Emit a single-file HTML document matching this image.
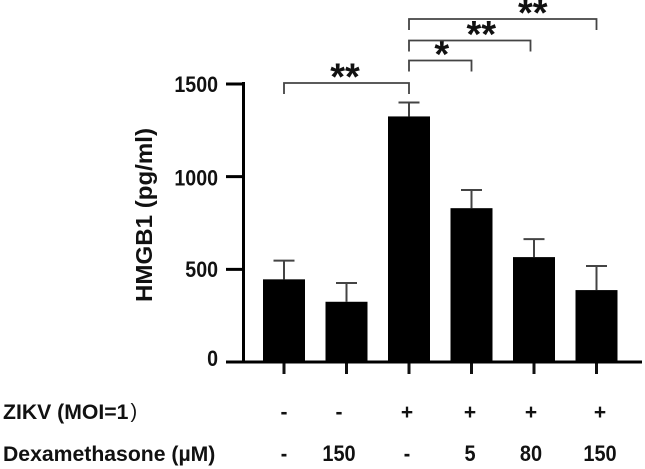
<!DOCTYPE html>
<html>
<head>
<meta charset="utf-8">
<style>
html,body{margin:0;padding:0;background:#fff;}
body{width:645px;height:469px;overflow:hidden;}
svg{display:block;filter:blur(0.35px);}
text{font-family:"Liberation Sans",sans-serif;font-weight:bold;fill:#111;}
</style>
</head>
<body>
<svg id="chart" xmlns="http://www.w3.org/2000/svg" width="645" height="469" viewBox="0 0 645 469"></svg>
<script>
const zikvRow = ['-', '-', '+', '+', '+', '+'];
const dexRow = ['-', '150', '-', '5', '80', '150'];
const barValues = [446, 325, 1325, 830, 566, 388];
const errorTops = [547, 426, 1400, 928, 663, 518];
const yTicks = [0, 500, 1000, 1500];
const comparisons = [
  {from: 0, to: 2, label: '**', level: 0},
  {from: 2, to: 3, label: '*', level: 1},
  {from: 2, to: 4, label: '**', level: 2},
  {from: 2, to: 5, label: '**', level: 3}
];

const svg = document.getElementById('chart');
const NS = 'http://www.w3.org/2000/svg';
function yScale(v) { return 362 - v * (278 / 1500); }
function xScale(i) { return 284 + i * 62.5; }
function rowLabelX(i) { return [284, 339, 407, 470, 531, 600][i]; }
function bracketY(level) { return [83, 60.5, 40.5, 19][level]; }
function bracketEndNudge(level) { return [0, 0, -3.5, 0][level]; }
function starOffset(level) { return [-1.5, 1.5, 11.5, 30][level]; }
function tickLabelNudge(i) { return [4, 7.5, 9, 8][i]; }
function make(tag, attrs, parent) {
  const el = document.createElementNS(NS, tag);
  for (const k in attrs) el.setAttribute(k, attrs[k]);
  (parent || svg).appendChild(el);
  return el;
}

barValues.forEach(function (v, i) {
  const cx = xScale(i);
  const top = yScale(errorTops[i]);
  const stem = make('line', {x1: cx, x2: cx, y1: top, y2: yScale(v), stroke: '#444', 'stroke-width': 2});
  
  
  const cap = make('line', {x1: cx - 10.5, x2: cx + 10.5, y1: top, y2: top, stroke: '#444', 'stroke-width': 2});
  
  
  const bar = make('rect', {x: cx - 21, y: yScale(v), width: 42, height: yScale(0) - yScale(v), fill: '#000'});
  
  
  const tick = make('line', {x1: cx, x2: cx, y1: 362, y2: 374, stroke: '#111', 'stroke-width': 3});
  
  
  const z = make('text', {x: rowLabelX(i), y: 419, 'text-anchor': 'middle', 'font-size': 21});
  z.textContent = zikvRow[i];
  
  
  const d = make('text', {x: rowLabelX(i), y: 461, 'text-anchor': 'middle', 'font-size': 22, textLength: dexRow[i].length * (dexRow[i] === '-' ? 6.5 : 11.1), lengthAdjust: 'spacingAndGlyphs'});
  d.textContent = dexRow[i];
  
  
});

const yAxis = make('line', {x1: 243.5, x2: 243.5, y1: 82, y2: 363.5, stroke: '#000', 'stroke-width': 3});


const xAxis = make('line', {x1: 226, x2: 642, y1: 362, y2: 362, stroke: '#000', 'stroke-width': 3});



yTicks.forEach(function (v, i) {
  const t = make('line', {x1: 226, x2: 243, y1: yScale(v), y2: yScale(v), stroke: '#000', 'stroke-width': 3});
  
  
  const l = make('text', {x: 218, y: yScale(v) + tickLabelNudge(i), 'text-anchor': 'end', 'font-size': 22.5, textLength: String(v).length * 10.9, lengthAdjust: 'spacingAndGlyphs'});
  l.textContent = v;
  
  
});

comparisons.forEach(function (c) {
  const x1 = xScale(c.from), x2 = xScale(c.to) + bracketEndNudge(c.level), y = bracketY(c.level);
  const b = make('path', {d: 'M' + x1 + ' ' + (y + 11) + 'V' + y + 'H' + x2 + 'V' + (y + 11), fill: 'none', stroke: '#444', 'stroke-width': 1.8});
  
  
  const s = make('text', {x: (x1 + x2) / 2 + starOffset(c.level), y: y + 6.5, 'text-anchor': 'middle', 'font-size': 38});
  s.textContent = c.label;
  
  
});

const yTitle = make('text', {x: 0, y: 0, 'text-anchor': 'middle', 'font-size': 23, textLength: 174, lengthAdjust: 'spacingAndGlyphs', transform: 'translate(152 215) rotate(-90)'});
yTitle.textContent = 'HMGB1 (pg/ml)';



const zikvLabel = make('text', {x: 3, y: 419, 'font-size': 21.2});
zikvLabel.textContent = 'ZIKV (MOI=1';


const zikvParen = make('text', {x: 130.5, y: 418, 'font-size': 20, style: 'font-weight:normal'});
zikvParen.textContent = ')';


const dexLabel = make('text', {x: 3, y: 461, 'font-size': 21.2});
dexLabel.textContent = 'Dexamethasone (µM)';


</script>
</body>
</html>
